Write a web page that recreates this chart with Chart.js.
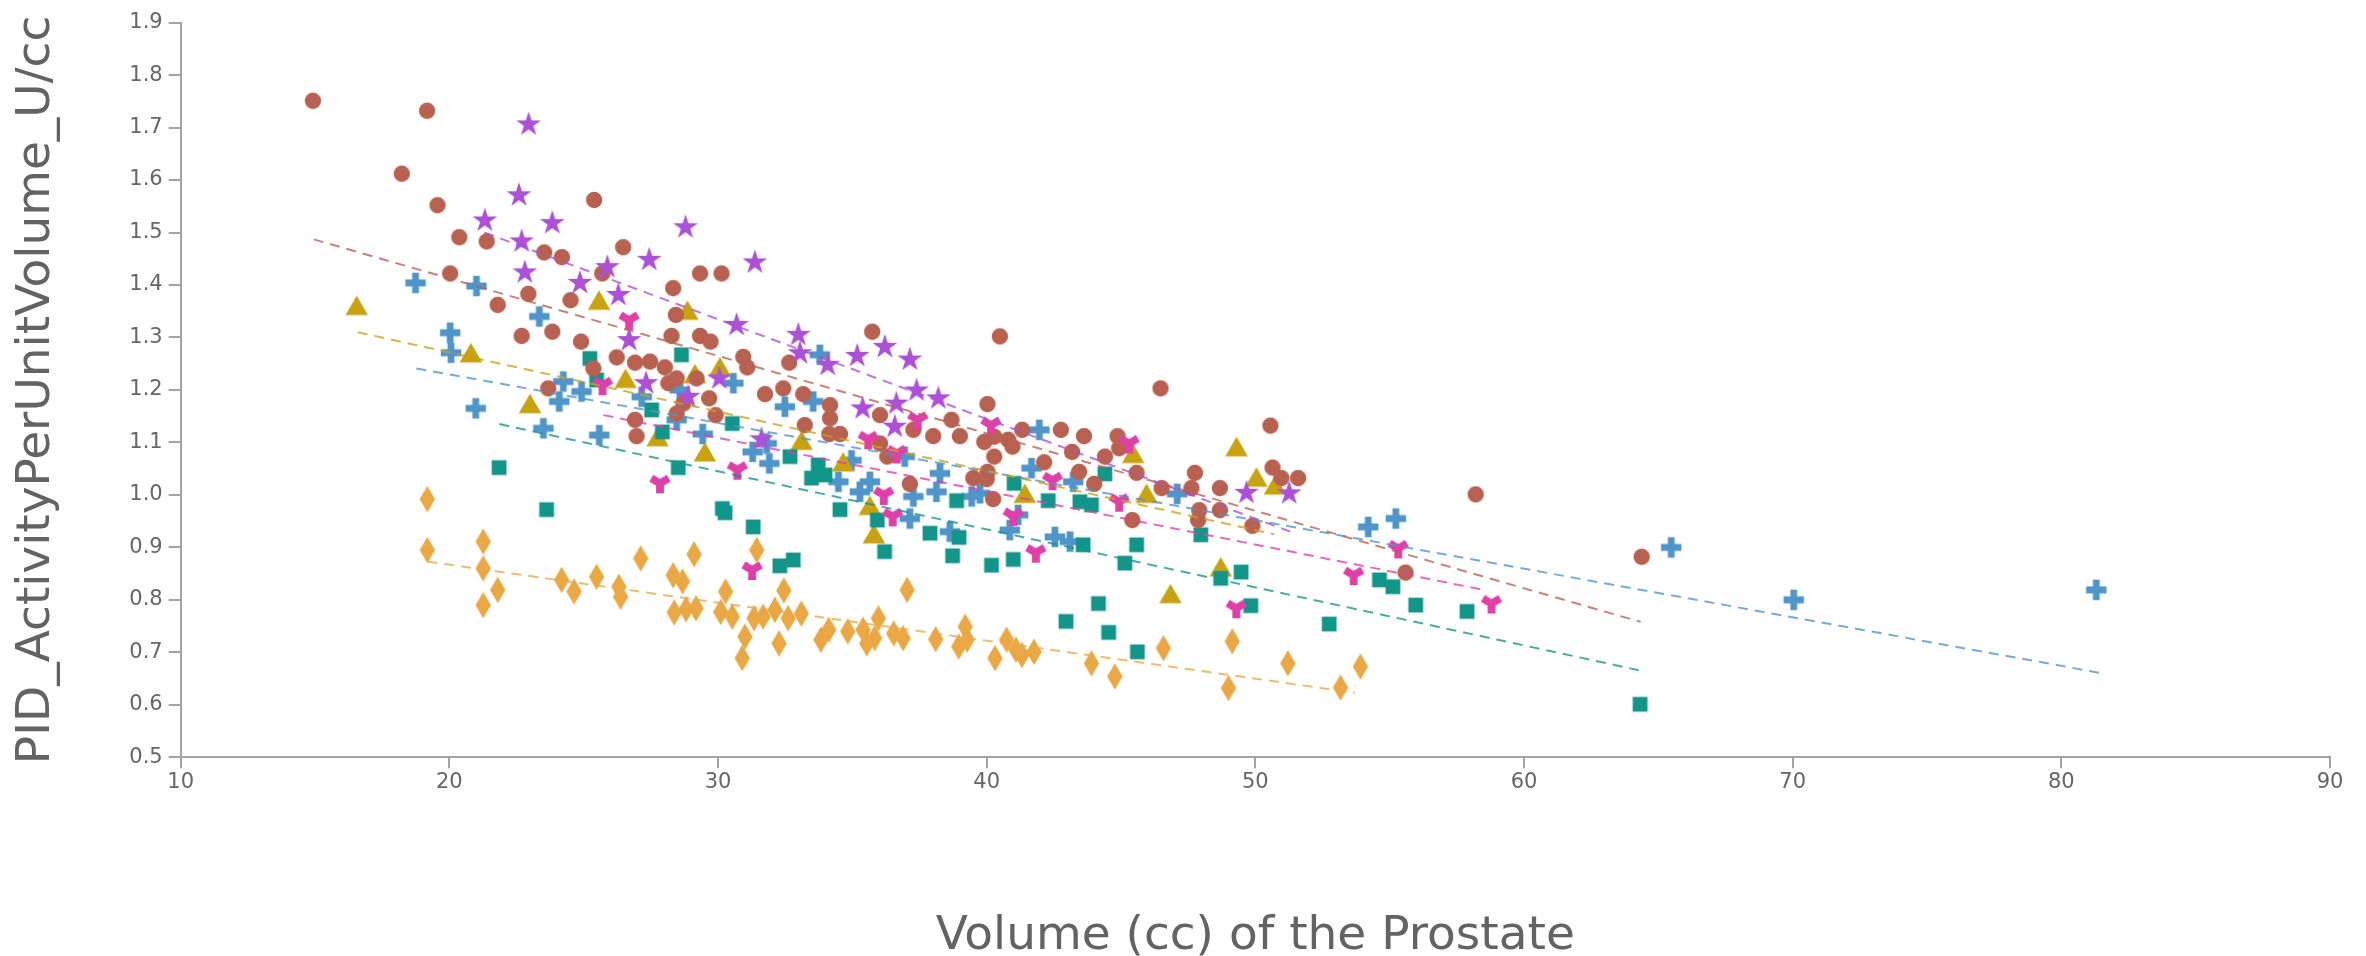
<!DOCTYPE html>
<html>
<head>
<meta charset="utf-8">
<script src="https://cdn.jsdelivr.net/npm/chart.js@4/dist/chart.umd.min.js"></script>
<style>
  html, body { margin: 0; padding: 0; background: #fff; }
  #wrap { width: 2366px; height: 956px; }
</style>
</head>
<body>
<div id="wrap"><canvas id="chart" width="2366" height="956"></canvas></div>
<script>
// axis ticks
const xTicks = [10, 20, 30, 40, 50, 60, 70, 80, 90];
const yTicks = [0.5, 0.6, 0.7, 0.8, 0.9, 1.0, 1.1, 1.2, 1.3, 1.4, 1.5, 1.6, 1.7, 1.8, 1.9];
const yTickLabels = ['0.5', '0.6', '0.7', '0.8', '0.9', '1.0', '1.1', '1.2', '1.3', '1.4', '1.5', '1.6', '1.7', '1.8', '1.9'];

// series points [volume, activity per unit volume]
const brownPts = [
  [14.92,1.751],[19.17,1.732],[18.23,1.612],[19.56,1.552],[20.37,1.491],[20.03,1.422],
  [21.39,1.483],[25.39,1.562],[23.53,1.462],[24.19,1.453],[26.47,1.472],[25.69,1.422],[29.33,1.422],[30.13,1.422],
  [21.80,1.362],[22.94,1.383],[24.51,1.371],[22.69,1.303],[23.83,1.311],[24.90,1.292],[28.33,1.394],[28.43,1.343],
  [28.27,1.303],[29.33,1.303],[29.72,1.292],[26.23,1.262],[26.91,1.252],[27.47,1.254],[28.02,1.243],[28.46,1.222],
  [28.15,1.213],[29.20,1.222],[25.36,1.241],[23.68,1.203],[28.71,1.174],[28.46,1.155],[29.67,1.184],[29.91,1.152],
  [26.91,1.143],[26.97,1.112],[30.94,1.263],[31.09,1.243],[32.65,1.252],[31.75,1.192],[32.43,1.203],[33.17,1.192],
  [34.17,1.171],[33.23,1.133],[34.17,1.146],[34.14,1.116],[34.54,1.116],[35.74,1.311],[36.03,1.152],[36.03,1.098],
  [36.30,1.073],[40.49,1.302],[46.47,1.203],[50.56,1.132],[40.03,1.173],[38.69,1.143],[39.00,1.112],[37.27,1.124],
  [38.01,1.112],[39.91,1.101],[40.28,1.111],[40.80,1.105],[40.96,1.092],[41.32,1.124],[40.28,1.073],[42.76,1.124],
  [43.62,1.112],[43.18,1.082],[44.40,1.073],[44.87,1.112],[44.93,1.089],[42.14,1.062],[43.44,1.044],[44.00,1.021],
  [45.58,1.042],[40.03,1.044],[39.50,1.032],[40.00,1.030],[40.24,0.992],[37.14,1.021],[46.51,1.013],[47.62,1.013],
  [47.75,1.042],[48.68,1.013],[47.91,0.971],[47.87,0.952],[48.68,0.971],[49.89,0.941],[45.42,0.952],[50.64,1.052],
  [50.97,1.032],[51.59,1.032],[58.20,1.001],[55.59,0.852],[64.38,0.882]
];
const purplePts = [
  [22.95,1.706],[22.59,1.571],[21.32,1.523],[23.83,1.518],[22.69,1.483],[22.81,1.424],[28.79,1.510],[27.44,1.448],
  [25.88,1.434],[31.37,1.443],[24.86,1.404],[26.29,1.381],[26.69,1.295],[27.32,1.213],[28.89,1.187],[30.05,1.222],
  [30.69,1.324],[32.99,1.305],[33.05,1.270],[34.08,1.248],[35.18,1.265],[36.21,1.282],[35.38,1.165],[31.62,1.106],
  [36.58,1.130],[36.64,1.174],[37.14,1.258],[37.39,1.199],[38.20,1.184],[49.67,1.004],[51.26,1.003]
];
const bluePts = [
  [18.74,1.404],[21.01,1.398],[20.03,1.309],[20.06,1.271],[20.98,1.165],[23.35,1.340],[24.24,1.216],[24.09,1.178],
  [24.92,1.197],[23.50,1.127],[25.58,1.114],[27.16,1.187],[28.58,1.200],[28.46,1.143],[29.43,1.116],[30.57,1.213],
  [31.29,1.082],[31.91,1.060],[31.81,1.098],[32.49,1.168],[33.54,1.178],[33.79,1.267],[34.48,1.025],[35.28,1.006],
  [35.65,1.025],[34.97,1.066],[41.96,1.124],[41.67,1.051],[43.22,1.025],[38.26,1.041],[38.13,1.006],[37.27,0.997],
  [36.95,1.073],[37.14,0.955],[39.44,0.997],[39.75,1.003],[40.86,0.933],[41.17,0.962],[42.54,0.920],[43.10,0.911],
  [38.63,0.930],[47.09,1.002],[54.20,0.939],[55.23,0.955],[65.48,0.900],[70.04,0.800],[81.30,0.819]
];
const goldPts = [
  [16.55,1.355],[20.80,1.265],[25.57,1.365],[28.86,1.346],[30.07,1.238],[26.56,1.216],[23.00,1.168],[27.75,1.105],
  [29.14,1.225],[29.51,1.076],[33.11,1.098],[34.66,1.057],[35.65,0.974],[35.80,0.920],[49.30,1.086],[50.04,1.028],
  [50.73,1.013],[45.95,0.997],[41.42,0.997],[45.45,1.073],[46.84,0.806],[48.71,0.857]
];
const tealPts = [
  [25.23,1.260],[25.48,1.219],[28.64,1.267],[27.53,1.162],[27.93,1.120],[30.53,1.136],[21.85,1.052],[28.52,1.052],
  [23.62,0.972],[30.16,0.974],[30.26,0.966],[31.31,0.939],[32.68,1.073],[33.73,1.057],[33.48,1.032],[33.98,1.038],
  [34.54,0.972],[35.93,0.952],[32.30,0.865],[32.80,0.876],[36.20,0.892],[44.40,1.040],[41.02,1.022],[42.29,0.989],
  [43.47,0.987],[43.90,0.981],[45.58,0.905],[47.97,0.924],[38.88,0.989],[37.89,0.927],[38.97,0.919],[38.73,0.884],
  [40.18,0.866],[40.99,0.877],[43.59,0.905],[45.14,0.870],[42.95,0.759],[44.16,0.793],[44.54,0.738],[45.61,0.701],
  [48.71,0.841],[49.47,0.853],[49.83,0.789],[52.75,0.754],[54.62,0.838],[55.12,0.825],[55.97,0.790],[57.88,0.778],
  [64.32,0.601]
];
const magentaPts = [
  [26.69,1.333],[25.70,1.209],[27.84,1.022],[30.72,1.048],[35.59,1.106],[36.17,1.000],[36.50,0.959],[31.27,0.857],
  [37.43,1.143],[40.16,1.133],[45.30,1.098],[42.45,1.028],[44.93,0.987],[40.99,0.960],[41.83,0.890],[36.65,1.079],
  [49.29,0.784],[53.66,0.847],[55.32,0.898],[58.79,0.793]
];
const orangePts = [
  [19.18,0.992],[19.18,0.895],[21.26,0.911],[21.26,0.860],[21.80,0.819],[21.26,0.790],[24.18,0.838],[24.64,0.816],
  [25.48,0.844],[26.31,0.825],[26.37,0.806],[27.12,0.879],[28.33,0.847],[28.68,0.835],[29.11,0.887],[28.37,0.776],
  [28.81,0.782],[29.18,0.784],[30.10,0.777],[30.28,0.816],[30.53,0.768],[31.00,0.730],[30.90,0.689],[31.44,0.895],
  [31.34,0.765],[31.68,0.768],[32.12,0.781],[32.45,0.818],[32.61,0.765],[32.27,0.717],[33.10,0.774],[33.83,0.724],
  [34.12,0.743],[34.83,0.740],[35.40,0.743],[35.54,0.717],[35.97,0.765],[35.83,0.727],[36.54,0.736],[36.89,0.727],
  [37.04,0.819],[38.10,0.725],[38.96,0.711],[39.20,0.749],[39.27,0.724],[40.31,0.689],[40.74,0.724],[41.09,0.705],
  [41.31,0.695],[41.76,0.701],[43.90,0.679],[44.77,0.654],[46.58,0.708],[49.14,0.721],[49.00,0.632],[51.21,0.679],
  [53.17,0.633],[53.91,0.673]
];

// trend line end points
const brownTrend   = [[14.95,1.487],[64.34,0.758]];
const purpleTrend  = [[21.30,1.500],[51.30,0.930]];
const blueTrend    = [[18.77,1.241],[81.43,0.661]];
const goldTrend    = [[16.59,1.310],[50.70,0.925]];
const tealTrend    = [[21.86,1.135],[64.27,0.666]];
const magentaTrend = [[25.73,1.152],[58.50,0.819]];
const orangeTrend  = [[19.18,0.873],[53.70,0.623]];

const FONT = '"DejaVu Sans", sans-serif';
const axisColor = '#a3a3a3';
const tickColor = '#666666';
const titleColor = '#636363';

// d3-like symbols drawn into small canvases, used as point styles
function symbol(kind, color) {
  const c = document.createElement('canvas');
  c.width = 32; c.height = 32;
  const g = c.getContext('2d');
  g.translate(16, 16);
  g.fillStyle = color;
  g.beginPath();
  if (kind === 'circle') {
    g.arc(0, 0, 8.2, 0, Math.PI * 2);
  } else if (kind === 'square') {
    g.rect(-7.4, -7.4, 14.8, 14.8);
  } else if (kind === 'diamond') {
    g.moveTo(0, -13.3); g.lineTo(7.7, 0); g.lineTo(0, 13.3); g.lineTo(-7.7, 0);
  } else if (kind === 'triangle') {
    const y = -6.5, s3 = Math.sqrt(3);
    g.moveTo(0, y * 2); g.lineTo(-s3 * y, -y); g.lineTo(s3 * y, -y);
  } else if (kind === 'cross') {
    const r = 3.4;
    const p = [[-3,-1],[-1,-1],[-1,-3],[1,-3],[1,-1],[3,-1],[3,1],[1,1],[1,3],[-1,3],[-1,1],[-3,1]];
    p.forEach((q, i) => i ? g.lineTo(q[0] * r, q[1] * r) : g.moveTo(q[0] * r, q[1] * r));
  } else if (kind === 'star') {
    const kr = Math.sin(Math.PI / 10) / Math.sin(7 * Math.PI / 10);
    const kx = Math.sin(Math.PI / 5) * kr, ky = -Math.cos(Math.PI / 5) * kr;
    const r = 13, x = kx * r, y = ky * r;
    g.moveTo(0, -r); g.lineTo(x, y);
    for (let i = 1; i < 5; ++i) {
      const a = Math.PI * 2 * i / 5, ca = Math.cos(a), sa = Math.sin(a);
      g.lineTo(sa * r, -ca * r);
      g.lineTo(ca * x - sa * y, sa * x + ca * y);
    }
  } else if (kind === 'wye') {
    const cc = -0.5, s = Math.sqrt(3) / 2, k = 1 / Math.sqrt(12), a = (k / 2 + 1) * 3;
    const r = Math.sqrt(210 / a);
    const x0 = r / 2, y0 = r * k, x1 = x0, y1 = r * k + r, x2 = -x1, y2 = y1;
    g.moveTo(x0, y0); g.lineTo(x1, y1); g.lineTo(x2, y2);
    g.lineTo(cc * x0 - s * y0, s * x0 + cc * y0);
    g.lineTo(cc * x1 - s * y1, s * x1 + cc * y1);
    g.lineTo(cc * x2 - s * y2, s * x2 + cc * y2);
    g.lineTo(cc * x0 + s * y0, cc * y0 - s * x0);
    g.lineTo(cc * x1 + s * y1, cc * y1 - s * x1);
    g.lineTo(cc * x2 + s * y2, cc * y2 - s * x2);
  }
  g.closePath();
  g.fill();
  return c;
}

const series = [
  { name: 'magenta', pts: magentaPts, trend: magentaTrend, color: '#E03FA8', kind: 'wye', order: 1 },
  { name: 'purple', pts: purplePts, trend: purpleTrend, color: '#AB50D7', kind: 'star', order: 2 },
  { name: 'brown', pts: brownPts, trend: brownTrend, color: '#B96150', kind: 'circle', order: 3 },
  { name: 'teal', pts: tealPts, trend: tealTrend, color: '#12968A', kind: 'square', order: 4 },
  { name: 'gold', pts: goldPts, trend: goldTrend, color: '#C9A210', kind: 'triangle', order: 5 },
  { name: 'blue', pts: bluePts, trend: blueTrend, color: '#4F95C9', kind: 'cross', order: 6 },
  { name: 'orange', pts: orangePts, trend: orangeTrend, color: '#EAA845', kind: 'diamond', order: 7 }
];

const toXY = arr => arr.map(p => ({ x: p[0], y: p[1] }));

const datasets = [];
series.forEach(s => {
  datasets.push({
    label: s.name,
    data: toXY(s.pts),
    pointStyle: symbol(s.kind, s.color),
    pointRadius: 8,
    pointHoverRadius: 8,
    pointBorderWidth: 0,
    backgroundColor: s.color,
    borderColor: s.color,
    order: s.order
  });
  datasets.push({
    label: s.name + ' trend',
    data: toXY(s.trend),
    showLine: true,
    pointRadius: 0,
    borderColor: s.color + 'C8',
    borderWidth: 2,
    borderDash: [10, 7],
    fill: false,
    order: 0
  });
});

new Chart(document.getElementById('chart'), {
  type: 'scatter',
  data: { datasets },
  options: {
    responsive: false,
    animation: false,
    devicePixelRatio: 1,
    layout: { padding: { left: 0, right: 36, top: 22.6, bottom: 0 } },
    plugins: { legend: { display: false }, tooltip: { enabled: false } },
    scales: {
      x: {
        type: 'linear',
        min: 10,
        max: 90,
        afterFit: s => { s.height = 198.7; },
        afterBuildTicks: s => { s.ticks = xTicks.map(v => ({ value: v })); },
        grid: { display: true, drawOnChartArea: false, drawTicks: true, tickLength: 11, color: axisColor, lineWidth: 2 },
        border: { display: true, color: axisColor, width: 2 },
        ticks: { color: tickColor, font: { family: FONT, size: 21 }, padding: 2, maxRotation: 0, autoSkip: false },
        title: {
          display: true,
          text: 'Volume (cc) of the Prostate',
          color: titleColor,
          font: { family: FONT, size: 47, lineHeight: 0.8 },
          padding: { top: 0, bottom: 0 }
        }
      },
      y: {
        type: 'linear',
        min: 0.5,
        max: 1.9,
        afterFit: s => { s.width = 180.7; },
        afterBuildTicks: s => { s.ticks = yTicks.map(v => ({ value: v })); },
        grid: { display: true, drawOnChartArea: false, drawTicks: true, tickLength: 12, color: axisColor, lineWidth: 2 },
        border: { display: true, color: axisColor, width: 2 },
        ticks: {
          color: tickColor,
          font: { family: FONT, size: 21 },
          padding: 6,
          autoSkip: false,
          callback: (v, i) => yTickLabels[i]
        },
        title: {
          display: true,
          text: 'PID_ActivityPerUnitVolume_U/cc',
          color: titleColor,
          font: { family: FONT, size: 47, lineHeight: 1 },
          padding: { top: 13, bottom: 0 }
        }
      }
    }
  }
});
</script>
</body>
</html>
